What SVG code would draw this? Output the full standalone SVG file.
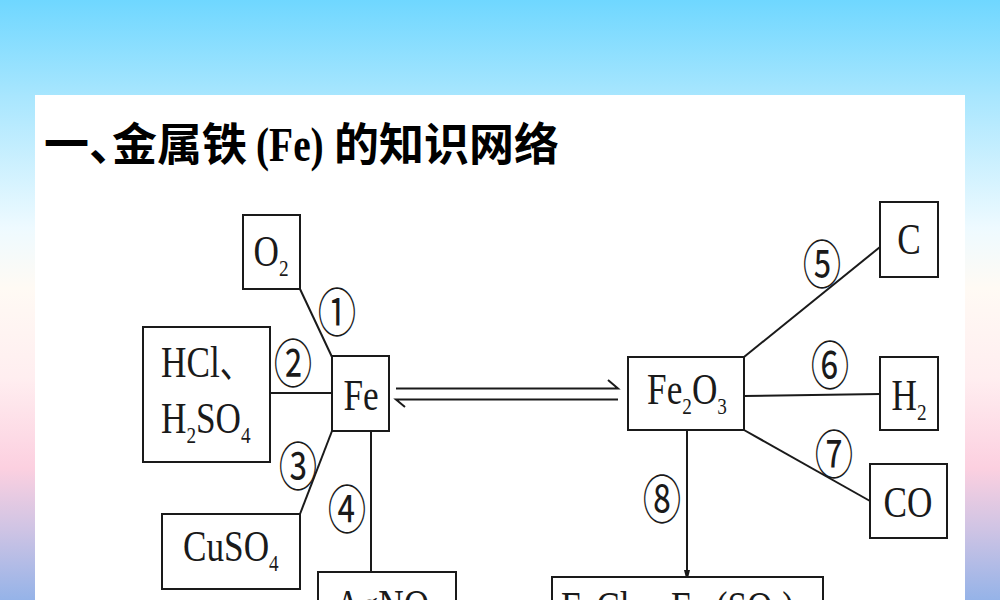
<svg xmlns="http://www.w3.org/2000/svg" width="1000" height="600" viewBox="0 0 1000 600">
<defs>
<linearGradient id="bg" x1="0" y1="0" x2="0" y2="1">
<stop offset="0" stop-color="#6fd7ff"/>
<stop offset="0.16" stop-color="#a8e6fe"/>
<stop offset="0.38" stop-color="#eefaff"/>
<stop offset="0.48" stop-color="#fffaf4"/>
<stop offset="0.63" stop-color="#ffeef0"/>
<stop offset="0.78" stop-color="#fcd0e0"/>
<stop offset="0.88" stop-color="#d0c4e4"/>
<stop offset="1" stop-color="#95b3e8"/>
</linearGradient>
<marker id="arr" markerWidth="12" markerHeight="20" refX="10" refY="5" orient="auto" markerUnits="userSpaceOnUse" viewBox="0 0 20 10">
<path d="M0,0 L20,5 L0,10 Z" fill="#1a1a1a"/>
</marker>
</defs>
<style>
.box{fill:#fff;stroke:#1a1a1a;stroke-width:2}
.ln{fill:none;stroke:#1a1a1a;stroke-width:2}
.t{font-family:"Liberation Serif","Times New Roman",serif;font-size:44px;fill:#1a1a1a}
.sub{font-size:24px}
.cjk{font-family:"Noto Sans CJK SC",sans-serif}
.num{font-family:"Noto Sans CJK SC",sans-serif;font-size:52px;fill:#1a1a1a;text-anchor:middle}
.title{font-family:"Noto Sans CJK SC",sans-serif;font-weight:bold;font-size:45px;fill:#000}
</style>
<rect x="0" y="0" width="1000" height="600" fill="url(#bg)"/>
<rect x="35" y="95" width="930" height="510" fill="#fff"/>

<g id="title">
<text class="title" x="44" y="161">一<tspan letter-spacing="-22px">、</tspan>金属铁</text>
<text transform="translate(256,161) scale(0.82,1)" style="font-family:'Liberation Serif',serif;font-weight:bold;font-size:48px;fill:#000">(Fe)</text>
<text class="title" x="334" y="161">的知识网络</text>
</g>

<g id="connectors">
<line class="ln" x1="300" y1="289" x2="332" y2="357"/>
<line class="ln" x1="270" y1="393" x2="332" y2="393"/>
<line class="ln" x1="332" y1="431" x2="300" y2="514"/>
<line class="ln" x1="371" y1="431" x2="371" y2="572"/>
<polyline class="ln" points="396,388.5 618,388.5 608,380"/>
<polyline class="ln" points="618,399.5 396,399.5 405,407"/>
<line class="ln" x1="744" y1="357" x2="880" y2="247"/>
<line class="ln" x1="744" y1="396" x2="880" y2="394"/>
<line class="ln" x1="744" y1="430" x2="870" y2="501"/>
<line class="ln" x1="687" y1="430" x2="687" y2="576" marker-end="url(#arr)"/>
<text class="num" transform="translate(337,332) scale(0.74,1)">①</text>
<text class="num" transform="translate(293,383) scale(0.74,1)">②</text>
<text class="num" transform="translate(298,486) scale(0.74,1)">③</text>
<text class="num" transform="translate(347,529) scale(0.74,1)">④</text>
<text class="num" transform="translate(822,284) scale(0.74,1)">⑤</text>
<text class="num" transform="translate(830,385) scale(0.74,1)">⑥</text>
<text class="num" transform="translate(834,474) scale(0.74,1)">⑦</text>
<text class="num" transform="translate(662,519) scale(0.74,1)">⑧</text>
</g>

<g id="o2">
<rect class="box" x="243" y="215" width="57" height="74"/>
<text class="t" transform="translate(271,266) scale(0.8,1)" text-anchor="middle">O<tspan class="sub" dy="10">2</tspan></text>
</g>

<g id="acid">
<rect class="box" x="143" y="327" width="127" height="135"/>
<text class="t" transform="translate(161,377) scale(0.8,1)">HCl<tspan class="cjk" font-size="40">、</tspan></text>
<text class="t" transform="translate(161,433) scale(0.8,1)">H<tspan class="sub" dy="10">2</tspan><tspan dy="-10">SO</tspan><tspan class="sub" dy="10">4</tspan></text>
</g>

<g id="fe">
<rect class="box" x="332" y="356" width="57" height="75"/>
<text class="t" transform="translate(361,410) scale(0.8,1)" text-anchor="middle">Fe</text>
</g>

<g id="cuso4">
<rect class="box" x="162" y="514" width="138" height="75"/>
<text class="t" transform="translate(183,561) scale(0.8,1)">CuSO<tspan class="sub" dy="10">4</tspan></text>
</g>

<g id="agno3">
<rect class="box" x="318" y="572" width="138" height="60"/>
<text class="t" transform="translate(387,620) scale(0.8,1)" text-anchor="middle">AgNO<tspan class="sub" dy="10">3</tspan></text>
</g>

<g id="fe2o3">
<rect class="box" x="628" y="357" width="116" height="73"/>
<text class="t" transform="translate(687,404) scale(0.8,1)" text-anchor="middle">Fe<tspan class="sub" dy="10">2</tspan><tspan dy="-10">O</tspan><tspan class="sub" dy="10">3</tspan></text>
</g>

<g id="c">
<rect class="box" x="880" y="202" width="58" height="75"/>
<text class="t" transform="translate(909,254) scale(0.8,1)" text-anchor="middle">C</text>
</g>

<g id="h2">
<rect class="box" x="880" y="357" width="58" height="73"/>
<text class="t" transform="translate(909,410) scale(0.8,1)" text-anchor="middle">H<tspan class="sub" dy="10">2</tspan></text>
</g>

<g id="co">
<rect class="box" x="870" y="464" width="77" height="74"/>
<text class="t" transform="translate(908,517) scale(0.8,1)" text-anchor="middle">CO</text>
</g>

<g id="salts">
<rect class="box" x="552" y="577" width="271" height="60"/>
<text class="t" transform="translate(561,622) scale(0.8,1)">FeCl<tspan class="sub" dy="10">3</tspan><tspan class="cjk" dy="-10" font-size="40">、</tspan>Fe<tspan class="sub" dy="10">2</tspan><tspan dy="-10">(SO</tspan><tspan class="sub" dy="10">4</tspan><tspan dy="-10">)</tspan><tspan class="sub" dy="10">3</tspan></text>
</g>
</svg>
